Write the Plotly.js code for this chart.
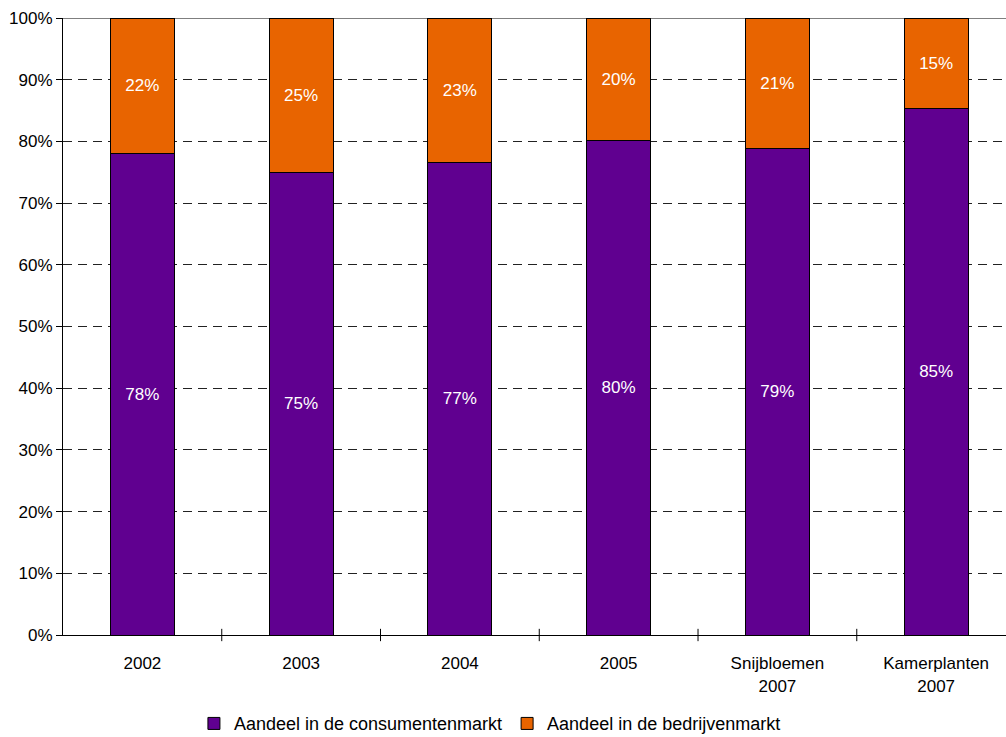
<!DOCTYPE html>
<html>
<head>
<meta charset="utf-8">
<script src="https://cdn.plot.ly/plotly-3.0.1.min.js"></script>
<style>html,body{margin:0;padding:0;background:#fff;} #chart{width:1006px;height:737px;}</style>
</head>
<body>
<div id="chart"></div>
<script>
const categories = ["2002", "2003", "2004", "2005", "Snijbloemen<br>2007", "Kamerplanten<br>2007"];
const consumentenmarkt = [78.0, 74.9, 76.6, 80.1, 78.8, 85.4];
const bedrijvenmarkt = [22.0, 25.1, 23.4, 19.9, 21.2, 14.6];
const yTickValues = [0, 10, 20, 30, 40, 50, 60, 70, 80, 90, 100];
const yTickLabels = ["0%", "10%", "20%", "30%", "40%", "50%", "60%", "70%", "80%", "90%", "100%"];

const fontFam = '"Liberation Sans", Arial, sans-serif';
const common = {
  type: 'bar',
  x: categories,
  textposition: 'inside',
  insidetextanchor: 'middle',
  texttemplate: '%{y:.0f}%',
  textfont: {color: '#ffffff', size: 17, family: fontFam},
  hoverinfo: 'skip'
};
const traces = [
  Object.assign({}, common, {name: 'Aandeel in de consumentenmarkt', y: consumentenmarkt,
    marker: {color: '#600090', line: {color: '#000000', width: 1}}}),
  Object.assign({}, common, {name: 'Aandeel in de bedrijvenmarkt', y: bedrijvenmarkt,
    marker: {color: '#E86400', line: {color: '#000000', width: 1}}})
];

const layout = {
  width: 1006, height: 737,
  margin: {l: 63, r: 0, t: 18, b: 102, autoexpand: false},
  paper_bgcolor: '#ffffff', plot_bgcolor: '#ffffff',
  barmode: 'stack',
  bargap: 0.597,
  showlegend: true,
  legend: {orientation: 'h', xref: 'container', yref: 'container',
    x: 0.487, xanchor: 'center', y: 0.018, yanchor: 'middle',
    font: {size: 18, family: fontFam, color: '#000'}, traceorder: 'normal',
    itemwidth: 30, tracegroupgap: 0, bgcolor: 'rgba(0,0,0,0)'},
  font: {family: fontFam, color: '#000'},
  xaxis: {
    type: 'category', range: [-0.5, 5.44], automargin: false,
    showline: true, linecolor: '#000', linewidth: 1,
    ticks: 'outside', ticklen: 6, tickcolor: 'rgba(0,0,0,0)', ticklabelstandoff: 7,
    showgrid: false,
    tickfont: {size: 17, family: fontFam, color: '#000'},
    fixedrange: true, zeroline: false
  },
  yaxis: {
    range: [0, 100], tickvals: yTickValues, ticktext: yTickLabels, automargin: false,
    showline: true, linecolor: '#000', linewidth: 1,
    ticks: 'outside', ticklen: 6, tickcolor: '#000',
    showgrid: true, gridcolor: '#222', griddash: '9px,6px', gridwidth: 1,
    tickfont: {size: 17, family: fontFam, color: '#000'},
    zeroline: false, fixedrange: true
  },
  shapes: [
    {type: 'line', xref: 'paper', yref: 'y', x0: 0, x1: 1, y0: 100, y1: 100, line: {color: '#000', width: 1}}
  ].concat([0.5, 1.5, 2.5, 3.5, 4.5].map(v => ({
    type: 'line', xref: 'x', yref: 'paper', x0: v, x1: v, y0: -0.01, y1: 0.01,
    line: {color: '#000', width: 1}
  })))
};

Plotly.newPlot('chart', traces, layout, {staticPlot: true, displayModeBar: false});
</script>
</body>
</html>
